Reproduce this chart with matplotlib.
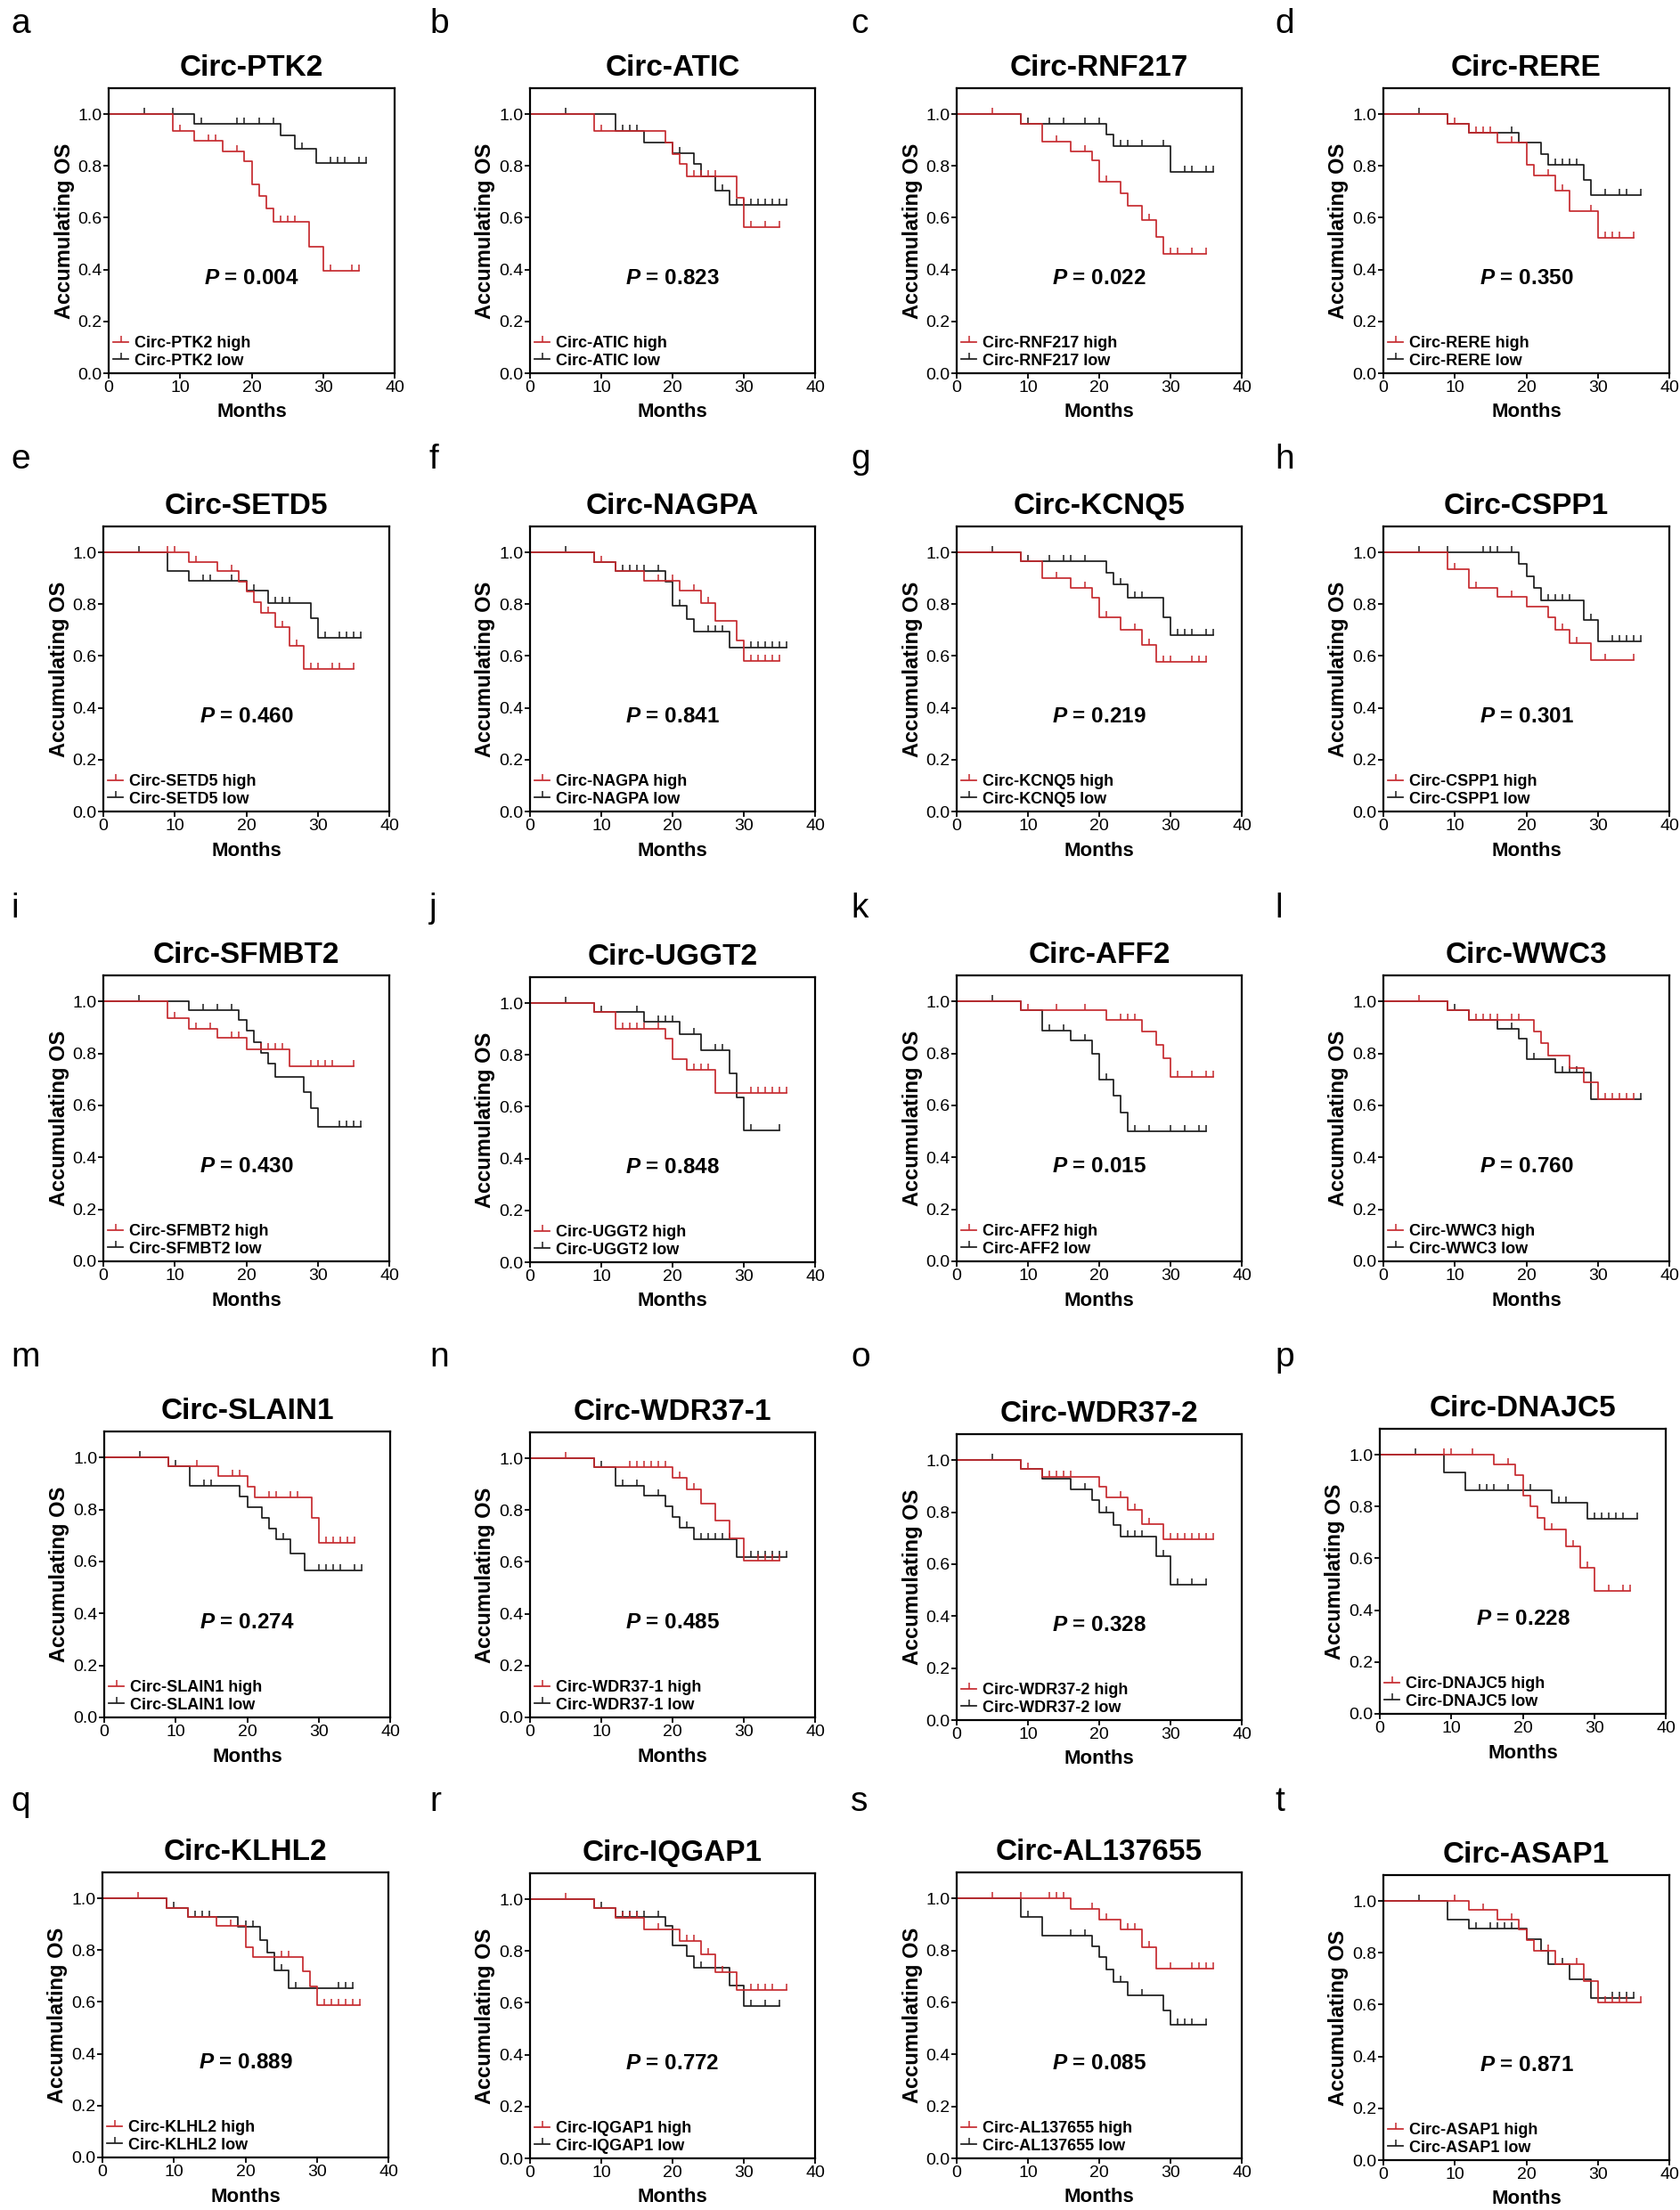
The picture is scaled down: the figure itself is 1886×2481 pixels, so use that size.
import numpy as np
import matplotlib
matplotlib.use("Agg")
import matplotlib.pyplot as plt
from matplotlib.lines import Line2D

plt.rcParams['font.family'] = ['Liberation Sans', 'DejaVu Sans']
plt.rcParams['mathtext.fontset'] = 'custom'
plt.rcParams['mathtext.it'] = 'Liberation Sans:italic:bold'

RED = '#c62a2f'
BLACK = '#1c1c1c'

genes = ['PTK2', 'ATIC', 'RNF217', 'RERE', 'SETD5', 'NAGPA', 'KCNQ5', 'CSPP1',
         'SFMBT2', 'UGGT2', 'AFF2', 'WWC3', 'SLAIN1', 'WDR37-1', 'WDR37-2', 'DNAJC5',
         'KLHL2', 'IQGAP1', 'AL137655', 'ASAP1']
letters = list('abcdefghijklmnopqrst')
p_values = ['0.004', '0.823', '0.022', '0.350', '0.460', '0.841', '0.219', '0.301',
            '0.430', '0.848', '0.015', '0.760', '0.274', '0.485', '0.328', '0.228',
            '0.889', '0.772', '0.085', '0.871']

# event times (months), survival after each event, censored times
ptk2_hi_t = [9, 12, 16, 19, 20, 21, 22, 23, 28, 30]
ptk2_hi_s = [0.934, 0.898, 0.857, 0.817, 0.729, 0.685, 0.637, 0.586, 0.489, 0.394]
ptk2_hi_c = [10, 14, 15, 18, 24, 25, 26, 31, 34, 35]
ptk2_lo_t = [12, 24, 26, 29]
ptk2_lo_s = [0.963, 0.918, 0.867, 0.81]
ptk2_lo_c = [5, 9, 13, 18, 19, 21, 23, 27, 31, 32, 33, 35, 36]

atic_hi_t = [9, 19, 20, 21, 22, 29, 30]
atic_hi_s = [0.934, 0.89, 0.846, 0.807, 0.759, 0.678, 0.563]
atic_hi_c = [10, 23, 24, 25, 26, 31, 33, 35]
atic_lo_t = [12, 16, 20, 23, 24, 26, 28]
atic_lo_s = [0.934, 0.89, 0.85, 0.808, 0.76, 0.705, 0.648]
atic_lo_c = [5, 13, 14, 15, 21, 27, 29, 30, 31, 32, 33, 34, 35, 36]

rnf217_hi_t = [9, 12, 16, 19, 20, 23, 24, 26, 28, 29]
rnf217_hi_s = [0.962, 0.895, 0.857, 0.82, 0.738, 0.695, 0.647, 0.592, 0.526, 0.46]
rnf217_hi_c = [5, 14, 18, 21, 27, 30, 31, 33, 35]
rnf217_lo_t = [9, 21, 22, 30]
rnf217_lo_s = [0.962, 0.921, 0.875, 0.777]
rnf217_lo_c = [10, 13, 15, 18, 20, 23, 24, 26, 29, 32, 33, 35, 36]

rere_hi_t = [9, 12, 16, 20, 21, 24, 26, 30]
rere_hi_s = [0.962, 0.928, 0.889, 0.806, 0.763, 0.704, 0.626, 0.523]
rere_hi_c = [10, 13, 14, 15, 18, 23, 25, 29, 31, 32, 33, 35]
rere_lo_t = [9, 12, 19, 22, 23, 28, 29]
rere_lo_s = [0.962, 0.928, 0.889, 0.846, 0.806, 0.746, 0.689]
rere_lo_c = [5, 18, 24, 25, 26, 27, 31, 33, 34, 36]

setd5_hi_t = [12, 16, 19, 20, 21, 22, 24, 26, 28]
setd5_hi_s = [0.964, 0.928, 0.888, 0.848, 0.809, 0.766, 0.711, 0.641, 0.549]
setd5_hi_c = [9, 10, 13, 18, 23, 25, 27, 29, 30, 32, 33, 35]
setd5_lo_t = [9, 12, 20, 23, 29, 30]
setd5_lo_s = [0.928, 0.89, 0.851, 0.804, 0.747, 0.67]
setd5_lo_c = [5, 14, 15, 18, 21, 24, 25, 26, 31, 33, 34, 35, 36]

nagpa_hi_t = [9, 12, 16, 21, 24, 26, 29, 30]
nagpa_hi_s = [0.964, 0.928, 0.892, 0.851, 0.805, 0.737, 0.661, 0.581]
nagpa_hi_c = [10, 18, 20, 23, 25, 31, 32, 33, 34, 35]
nagpa_lo_t = [9, 12, 19, 20, 22, 23, 28]
nagpa_lo_s = [0.964, 0.928, 0.886, 0.793, 0.744, 0.694, 0.631]
nagpa_lo_c = [5, 13, 14, 15, 16, 18, 21, 25, 26, 27, 31, 32, 33, 34, 35, 36]

kcnq5_hi_t = [9, 12, 16, 19, 20, 23, 26, 28]
kcnq5_hi_s = [0.966, 0.9, 0.863, 0.826, 0.748, 0.7, 0.643, 0.576]
kcnq5_hi_c = [14, 18, 21, 25, 27, 29, 30, 33, 34, 35]
kcnq5_lo_t = [9, 21, 22, 24, 29, 30]
kcnq5_lo_s = [0.966, 0.92, 0.876, 0.826, 0.751, 0.679]
kcnq5_lo_c = [5, 10, 13, 15, 16, 18, 23, 25, 26, 31, 32, 33, 35, 36]

cspp1_hi_t = [9, 12, 16, 20, 23, 24, 26, 29]
cspp1_hi_s = [0.934, 0.862, 0.828, 0.79, 0.749, 0.7, 0.648, 0.584]
cspp1_hi_c = [10, 13, 18, 25, 27, 31, 35]
cspp1_lo_t = [19, 20, 21, 22, 28, 30]
cspp1_lo_s = [0.954, 0.908, 0.862, 0.814, 0.739, 0.658]
cspp1_lo_c = [5, 9, 14, 15, 16, 18, 23, 24, 25, 26, 29, 32, 33, 34, 35, 36]

sfmbt2_hi_t = [9, 12, 16, 20, 26]
sfmbt2_hi_s = [0.934, 0.896, 0.859, 0.817, 0.749]
sfmbt2_hi_c = [10, 13, 15, 18, 19, 22, 23, 24, 25, 29, 30, 31, 32, 35]
sfmbt2_lo_t = [12, 19, 20, 21, 22, 23, 24, 28, 29, 30]
sfmbt2_lo_s = [0.966, 0.928, 0.888, 0.844, 0.802, 0.76, 0.708, 0.651, 0.591, 0.518]
sfmbt2_lo_c = [5, 14, 16, 18, 33, 34, 35, 36]

uggt2_hi_t = [9, 12, 19, 20, 22, 26]
uggt2_hi_s = [0.967, 0.901, 0.862, 0.783, 0.743, 0.652]
uggt2_hi_c = [13, 14, 15, 16, 18, 23, 24, 25, 31, 32, 33, 34, 35, 36]
uggt2_lo_t = [9, 16, 21, 24, 28, 29, 30]
uggt2_lo_s = [0.967, 0.929, 0.881, 0.818, 0.729, 0.636, 0.509]
uggt2_lo_c = [5, 10, 15, 18, 19, 20, 23, 26, 27, 31, 35]

aff2_hi_t = [9, 21, 26, 28, 29, 30]
aff2_hi_s = [0.967, 0.93, 0.884, 0.834, 0.78, 0.71]
aff2_hi_c = [10, 14, 18, 23, 24, 25, 31, 33, 35, 36]
aff2_lo_t = [9, 12, 16, 19, 20, 22, 23, 24]
aff2_lo_s = [0.967, 0.889, 0.849, 0.8, 0.70, 0.636, 0.571, 0.502]
aff2_lo_c = [5, 13, 15, 18, 21, 25, 27, 30, 32, 34, 35]

wwc3_hi_t = [9, 12, 21, 22, 23, 26, 28, 30]
wwc3_hi_s = [0.967, 0.93, 0.884, 0.838, 0.792, 0.742, 0.69, 0.622]
wwc3_hi_c = [5, 13, 14, 15, 16, 18, 19, 31, 32, 33, 34, 35]
wwc3_lo_t = [9, 12, 16, 19, 20, 24, 29]
wwc3_lo_s = [0.967, 0.93, 0.896, 0.857, 0.779, 0.726, 0.622]
wwc3_lo_c = [10, 18, 21, 25, 26, 27, 36]

slain1_hi_t = [9, 16, 20, 21, 29, 30]
slain1_hi_s = [0.966, 0.929, 0.888, 0.846, 0.766, 0.671]
slain1_hi_c = [13, 18, 19, 23, 24, 26, 27, 31, 32, 33, 34, 35]
slain1_lo_t = [9, 12, 19, 20, 22, 23, 24, 26, 28]
slain1_lo_s = [0.966, 0.89, 0.849, 0.808, 0.767, 0.728, 0.687, 0.629, 0.566]
slain1_lo_c = [5, 10, 14, 15, 25, 30, 31, 32, 33, 35, 36]

wdr371_hi_t = [9, 20, 22, 24, 26, 28, 30]
wdr371_hi_s = [0.966, 0.924, 0.879, 0.824, 0.76, 0.691, 0.605]
wdr371_hi_c = [5, 14, 15, 16, 17, 18, 19, 21, 23, 32, 33, 34, 35]
wdr371_lo_t = [9, 12, 16, 19, 20, 21, 23, 29]
wdr371_lo_s = [0.966, 0.894, 0.856, 0.814, 0.772, 0.731, 0.689, 0.619]
wdr371_lo_c = [10, 13, 15, 18, 22, 24, 25, 26, 27, 28, 31, 32, 33, 34, 35, 36]

wdr372_hi_t = [9, 12, 20, 21, 24, 26, 29]
wdr372_hi_s = [0.967, 0.937, 0.897, 0.857, 0.808, 0.755, 0.696]
wdr372_hi_c = [10, 13, 14, 15, 16, 23, 25, 27, 30, 31, 32, 33, 34, 35, 36]
wdr372_lo_t = [9, 12, 16, 19, 20, 22, 23, 28, 30]
wdr372_lo_s = [0.967, 0.928, 0.888, 0.845, 0.798, 0.752, 0.705, 0.629, 0.522]
wdr372_lo_c = [5, 18, 21, 24, 25, 26, 29, 31, 33, 35]

dnajc5_hi_t = [16, 19, 20, 21, 22, 23, 26, 28, 30]
dnajc5_hi_s = [0.961, 0.922, 0.842, 0.8, 0.755, 0.712, 0.645, 0.564, 0.473]
dnajc5_hi_c = [9, 10, 13, 18, 24, 27, 29, 32, 34, 35]
dnajc5_lo_t = [9, 12, 24, 29]
dnajc5_lo_s = [0.93, 0.863, 0.814, 0.752]
dnajc5_lo_c = [5, 14, 15, 16, 18, 21, 25, 26, 30, 31, 32, 33, 34, 36]

klhl2_hi_t = [9, 12, 16, 20, 21, 28, 29, 30]
klhl2_hi_s = [0.963, 0.928, 0.894, 0.812, 0.773, 0.717, 0.66, 0.587]
klhl2_hi_c = [5, 18, 25, 26, 31, 32, 33, 34, 35, 36]
klhl2_lo_t = [9, 12, 19, 22, 23, 24, 26]
klhl2_lo_s = [0.963, 0.928, 0.889, 0.839, 0.79, 0.723, 0.652]
klhl2_lo_c = [10, 13, 14, 15, 20, 21, 25, 27, 33, 34, 35]

iqgap1_hi_t = [9, 12, 16, 21, 24, 26, 29]
iqgap1_hi_s = [0.967, 0.927, 0.885, 0.838, 0.786, 0.72, 0.65]
iqgap1_hi_c = [5, 13, 14, 15, 18, 22, 23, 25, 27, 31, 32, 33, 34, 36]
iqgap1_lo_t = [9, 12, 19, 20, 22, 23, 28, 30]
iqgap1_lo_s = [0.967, 0.933, 0.898, 0.821, 0.78, 0.735, 0.667, 0.587]
iqgap1_lo_c = [10, 13, 14, 15, 16, 18, 24, 31, 33, 35]

al137655_hi_t = [16, 20, 23, 26, 28]
al137655_hi_s = [0.96, 0.92, 0.88, 0.811, 0.73]
al137655_hi_c = [5, 9, 13, 14, 15, 19, 21, 24, 25, 27, 30, 33, 34, 35, 36]
al137655_lo_t = [9, 12, 19, 20, 21, 22, 24, 29, 30]
al137655_lo_s = [0.93, 0.857, 0.815, 0.774, 0.727, 0.68, 0.626, 0.568, 0.513]
al137655_lo_c = [10, 16, 18, 23, 26, 31, 32, 33, 35]

asap1_hi_t = [12, 16, 19, 20, 21, 24, 28, 30]
asap1_hi_s = [0.966, 0.929, 0.891, 0.85, 0.808, 0.755, 0.69, 0.61]
asap1_hi_c = [10, 14, 18, 23, 27, 31, 32, 33, 34, 36]
asap1_lo_t = [9, 12, 20, 22, 23, 26, 29]
asap1_lo_s = [0.929, 0.893, 0.853, 0.808, 0.755, 0.698, 0.627]
asap1_lo_c = [5, 13, 15, 16, 17, 18, 25, 32, 33, 34, 35]

curves = [
    (ptk2_hi_t, ptk2_hi_s, ptk2_hi_c, ptk2_lo_t, ptk2_lo_s, ptk2_lo_c),
    (atic_hi_t, atic_hi_s, atic_hi_c, atic_lo_t, atic_lo_s, atic_lo_c),
    (rnf217_hi_t, rnf217_hi_s, rnf217_hi_c, rnf217_lo_t, rnf217_lo_s, rnf217_lo_c),
    (rere_hi_t, rere_hi_s, rere_hi_c, rere_lo_t, rere_lo_s, rere_lo_c),
    (setd5_hi_t, setd5_hi_s, setd5_hi_c, setd5_lo_t, setd5_lo_s, setd5_lo_c),
    (nagpa_hi_t, nagpa_hi_s, nagpa_hi_c, nagpa_lo_t, nagpa_lo_s, nagpa_lo_c),
    (kcnq5_hi_t, kcnq5_hi_s, kcnq5_hi_c, kcnq5_lo_t, kcnq5_lo_s, kcnq5_lo_c),
    (cspp1_hi_t, cspp1_hi_s, cspp1_hi_c, cspp1_lo_t, cspp1_lo_s, cspp1_lo_c),
    (sfmbt2_hi_t, sfmbt2_hi_s, sfmbt2_hi_c, sfmbt2_lo_t, sfmbt2_lo_s, sfmbt2_lo_c),
    (uggt2_hi_t, uggt2_hi_s, uggt2_hi_c, uggt2_lo_t, uggt2_lo_s, uggt2_lo_c),
    (aff2_hi_t, aff2_hi_s, aff2_hi_c, aff2_lo_t, aff2_lo_s, aff2_lo_c),
    (wwc3_hi_t, wwc3_hi_s, wwc3_hi_c, wwc3_lo_t, wwc3_lo_s, wwc3_lo_c),
    (slain1_hi_t, slain1_hi_s, slain1_hi_c, slain1_lo_t, slain1_lo_s, slain1_lo_c),
    (wdr371_hi_t, wdr371_hi_s, wdr371_hi_c, wdr371_lo_t, wdr371_lo_s, wdr371_lo_c),
    (wdr372_hi_t, wdr372_hi_s, wdr372_hi_c, wdr372_lo_t, wdr372_lo_s, wdr372_lo_c),
    (dnajc5_hi_t, dnajc5_hi_s, dnajc5_hi_c, dnajc5_lo_t, dnajc5_lo_s, dnajc5_lo_c),
    (klhl2_hi_t, klhl2_hi_s, klhl2_hi_c, klhl2_lo_t, klhl2_lo_s, klhl2_lo_c),
    (iqgap1_hi_t, iqgap1_hi_s, iqgap1_hi_c, iqgap1_lo_t, iqgap1_lo_s, iqgap1_lo_c),
    (al137655_hi_t, al137655_hi_s, al137655_hi_c, al137655_lo_t, al137655_lo_s, al137655_lo_c),
    (asap1_hi_t, asap1_hi_s, asap1_hi_c, asap1_lo_t, asap1_lo_s, asap1_lo_c),
]

W, H = 1886, 2481
# axes boxes in pixels: left, top, right, bottom
boxes = [(122, 99, 443, 419), (595, 99, 915, 419), (1074, 99, 1394, 419), (1553, 99, 1874, 419),
         (116, 591, 437, 911), (595, 591, 915, 911), (1074, 591, 1394, 911), (1553, 591, 1874, 911),
         (116, 1095, 437, 1416), (595, 1097, 915, 1417), (1074, 1095, 1394, 1416), (1553, 1095, 1874, 1416),
         (117, 1607, 438, 1928), (595, 1608, 915, 1928), (1074, 1610, 1394, 1931), (1549, 1604, 1870, 1924),
         (115, 2102, 436, 2422), (595, 2103, 915, 2423), (1074, 2102, 1394, 2423), (1553, 2105, 1874, 2425)]
letter_x = [12, 482, 955, 1431]
letter_y = [37, 526, 1030, 1534, 2033]


def km(ax, t, s, c, color):
    end = max(t + c)
    xs = [0] + list(t) + [end]
    ys = [1.0] + list(s) + [s[-1]]
    ax.step(xs, ys, where='post', color=color, lw=1.25)
    levels = np.array([1.0] + list(s))
    idx = np.searchsorted(t, c, side='right')
    ax.plot(c, levels[idx], ls='none', marker=2, ms=5, mew=1.1, color=color)


fig = plt.figure(figsize=(W / 100, H / 100), dpi=100)

for i, gene in enumerate(genes):
    l, t, r, b = boxes[i]
    ax = fig.add_axes([l / W, 1 - b / H, (r - l) / W, (b - t) / H])
    hi_t, hi_s, hi_c, lo_t, lo_s, lo_c = curves[i]
    km(ax, lo_t, lo_s, lo_c, BLACK)
    km(ax, hi_t, hi_s, hi_c, RED)
    ax.set_xlim(0, 40)
    ax.set_ylim(0, 1.1)
    ax.set_xticks([0, 10, 20, 30, 40])
    ax.set_yticks([0, 0.2, 0.4, 0.6, 0.8, 1.0])
    ax.set_yticklabels(['0.0', '0.2', '0.4', '0.6', '0.8', '1.0'])
    ax.tick_params(direction='out', length=4, width=1.3, labelsize=14, pad=1.5)
    for sp in ax.spines.values():
        sp.set_linewidth(1.6)
    ax.set_title('Circ-' + gene, fontsize=24, fontweight='bold', pad=10)
    w = r - l
    h = b - t
    ax.text(-50 / w, 0.5, 'Accumulating OS', transform=ax.transAxes, rotation=90,
            ha='center', va='center', fontsize=17, fontweight='bold')
    ax.text(0.5, -44 / h, 'Months', transform=ax.transAxes,
            ha='center', va='center', fontsize=16, fontweight='bold')
    ax.text(20, 0.366, '$P$ = ' + p_values[i], ha='center', va='center',
            fontsize=17.5, fontweight='bold')
    handles = [Line2D([], [], color=RED, lw=1.25, marker=2, ms=5, mew=1.1),
               Line2D([], [], color=BLACK, lw=1.25, marker=2, ms=5, mew=1.1)]
    ax.legend(handles, ['Circ-' + gene + ' high', 'Circ-' + gene + ' low'],
              loc='lower left', bbox_to_anchor=(0.0, 0.0), frameon=False,
              prop={'size': 13, 'weight': 'bold'}, handlelength=0.9,
              handletextpad=0.4, labelspacing=0.15, borderpad=0.3, borderaxespad=0.0,
              numpoints=1)
    fig.text(letter_x[i % 4] / W, 1 - letter_y[i // 4] / H, letters[i],
             fontsize=28, ha='left', va='baseline')

fig.savefig('out.png', dpi=100)
